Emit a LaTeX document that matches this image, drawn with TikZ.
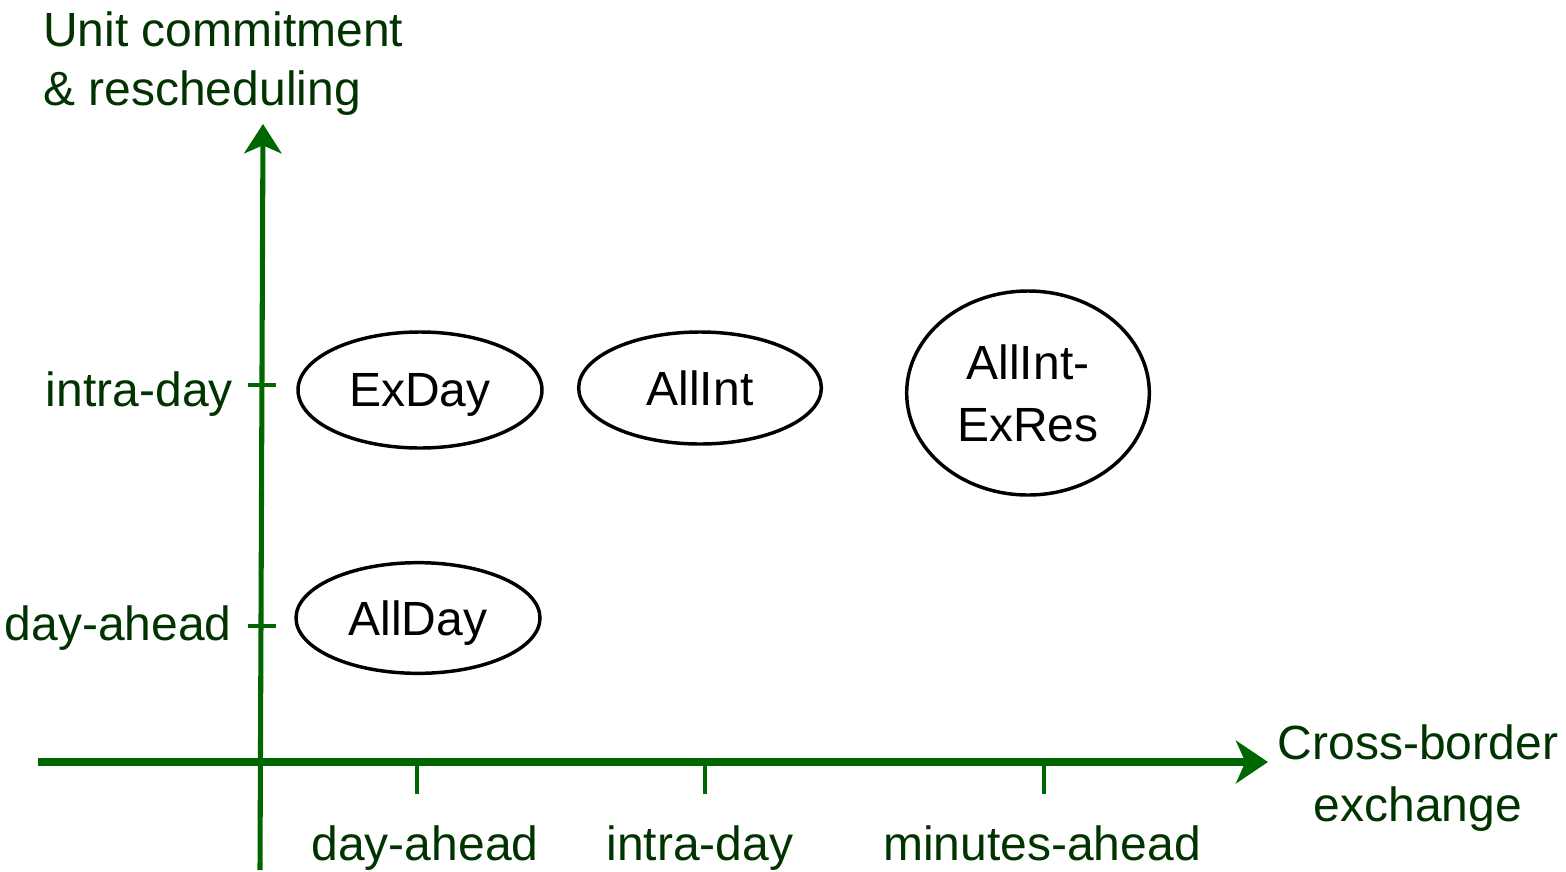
\documentclass[tikz,border=0pt]{standalone}
\usepackage{fontspec}
\setmainfont{Liberation Sans}
\usetikzlibrary{arrows.meta,shapes.geometric}
\definecolor{axisgreen}{HTML}{006600}
\definecolor{labelgreen}{HTML}{003300}

\begin{document}
\begin{tikzpicture}[
  x=0.75pt,y=-0.75pt,
  axis/.style={draw=axisgreen,
    -{Stealth[length=24pt,width=32pt,inset=7pt]}},
  tick/.style={draw=axisgreen,line width=3pt},
  scheme/.style={draw,ellipse,line width=2.6pt,inner sep=0pt,
    align=center,text depth=0pt,font=\fontsize{36}{46}\selectfont},
  lab/.style={text=labelgreen,font=\fontsize{36}{44}\selectfont,
    inner sep=0pt},
]
  \useasboundingbox (0,0) rectangle (1566,871);
  % axes
  \coordinate (xstart) at (38,762);
  \coordinate (xend) at (1268,762);
  \coordinate (ystart) at (260,870);
  \coordinate (yend) at (263,124);
  \draw[axis,line width=6pt] (xstart) -- (xend);
  \draw[axis,line width=3.8pt,
    -{Stealth[length=22pt,width=28pt,inset=6pt]}] (ystart) -- (yend);
  \node[lab,anchor=base west,align=left] (ytitle) at (43,105)
    {Unit commitment\\\& rescheduling};
  \node[lab,align=center,font=\fontsize{36}{46}\selectfont] (xtitle)
    at (1418,778) {Cross-border\\exchange};
  % ticks on the vertical axis
  \coordinate (yda) at (248,626);
  \coordinate (yid) at (248,385);
  \draw[tick] (yda) -- ++(28,0);
  \draw[tick] (yid) -- ++(28,0);
  \node[lab,anchor=base east] (ydalab) at (232,640) {day-ahead};
  \node[lab,anchor=base east] (yidlab) at (233,406) {intra-day};
  % ticks on the horizontal axis
  \coordinate (xda) at (417,762);
  \coordinate (xid) at (705,762);
  \coordinate (xma) at (1044,762);
  \foreach \t in {xda,xid,xma}
    \draw[tick] (\t) -- ++(0,32);
  \node[lab,anchor=base] (xdalab) at (425,860) {day-ahead};
  \node[lab,anchor=base] (xidlab) at (700,860) {intra-day};
  \node[lab,anchor=base] (xmalab) at (1042,860) {minutes-ahead};
  % schemes
  \node[scheme,minimum width=183pt,minimum height=87pt] (exday)
    at (420,390) {ExDay};
  \node[scheme,minimum width=182pt,minimum height=84pt] (allint)
    at (700,388) {AllInt};
  \node[scheme,minimum width=182pt,minimum height=153pt] (allintexres)
    at (1028,393) {AllInt-\\ExRes};
  \node[scheme,minimum width=183pt,minimum height=83pt] (allday)
    at (418,618) {AllDay};
\end{tikzpicture}
\end{document}
